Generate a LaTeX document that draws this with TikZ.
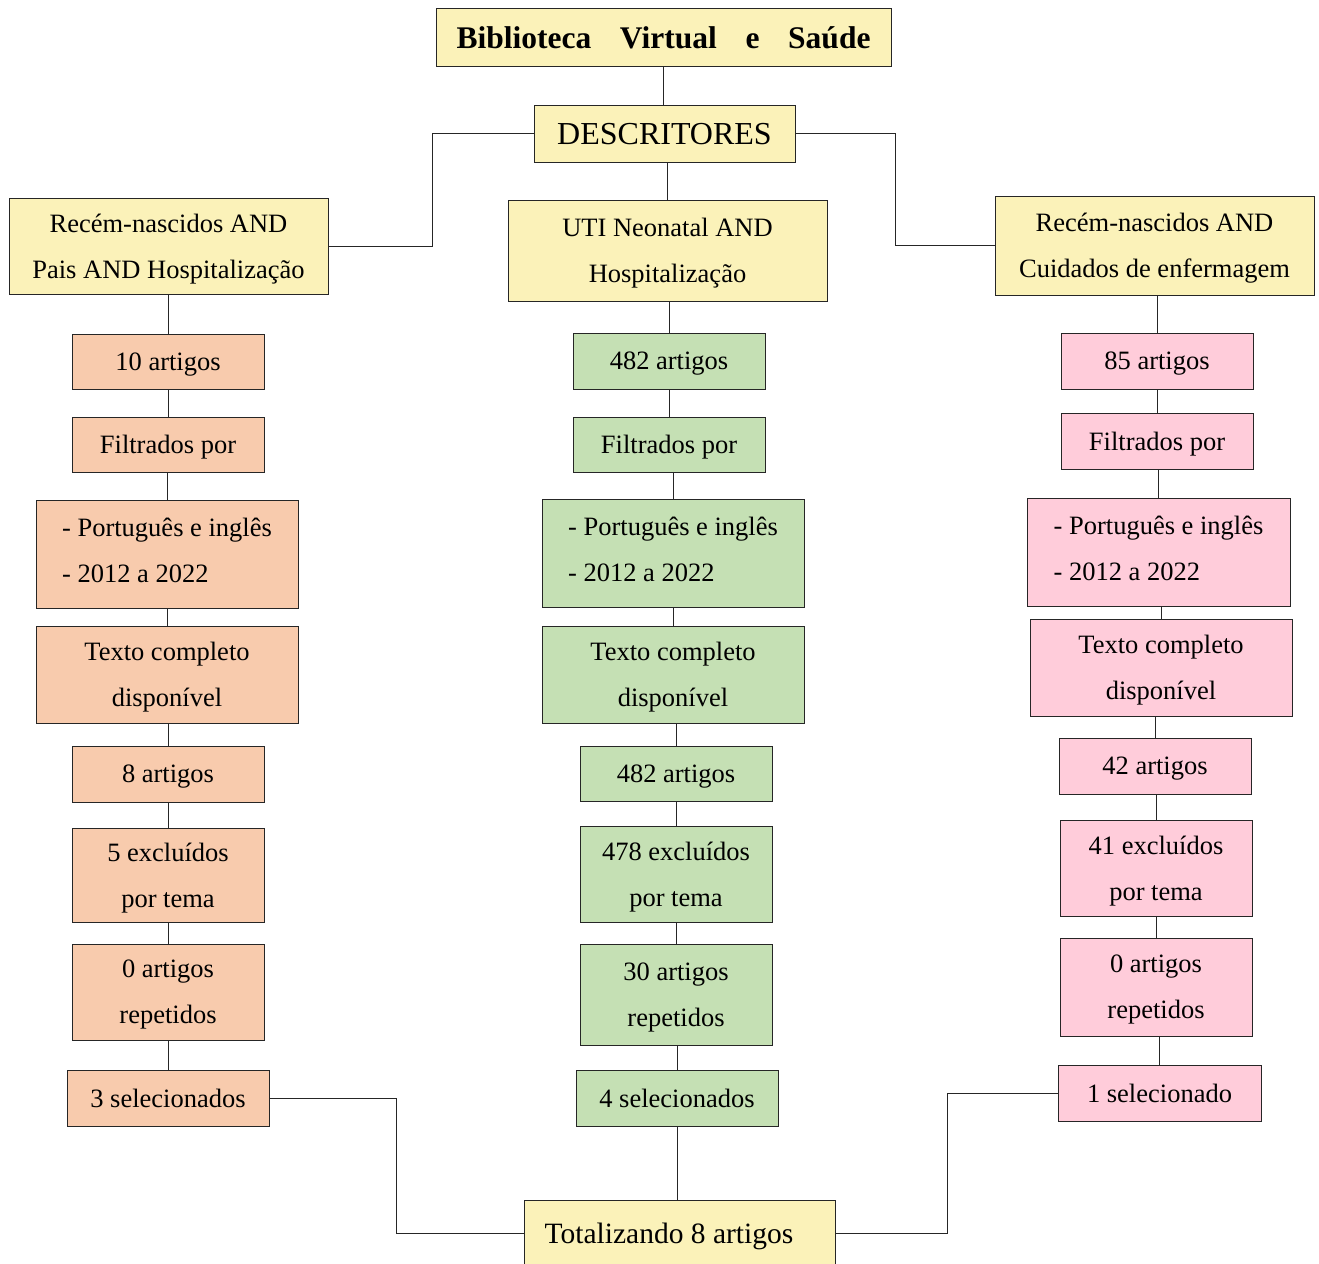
\documentclass[tikz,border=0pt]{standalone}
\usepackage{fontspec}
\setmainfont{Liberation Serif}
\definecolor{cyel}{HTML}{FBF2B9}
\definecolor{corg}{HTML}{F8CBAD}
\definecolor{cgrn}{HTML}{C5E0B4}
\definecolor{cpnk}{HTML}{FFCCDA}
\begin{document}
\begin{tikzpicture}[x=1pt,y=-1pt,
  box/.style={draw=black!85, line width=1pt, inner sep=0pt, align=center, text depth=0pt, font=\fontsize{26.5}{46}\selectfont},
  list/.style={align=left, text depth=8pt},
  ybox/.style={box, fill=cyel},
  obox/.style={box, fill=corg},
  gbox/.style={box, fill=cgrn},
  pbox/.style={box, fill=cpnk},
  conn/.style={draw=black!85, line width=1pt}]
\useasboundingbox (0,0) rectangle (1319,1263);

% top
\node[ybox, minimum width=455, minimum height=58, font=\fontsize{31.5}{38}\selectfont\bfseries] (title) at (663.5,38) {\makebox[414pt][s]{Biblioteca Virtual e Saúde}};
\node[ybox, minimum width=261, minimum height=57, font=\fontsize{32}{38}\selectfont] (desc) at (664.5,133.5) {DESCRITORES};

% left column
\node[ybox, minimum width=319, minimum height=96] (l0) at (168.5,246) {Recém-nascidos AND\\Pais AND Hospitalização};
\node[obox, minimum width=192, minimum height=55] (l1) at (168,361.5) {10 artigos};
\node[obox, minimum width=192, minimum height=55] (l2) at (168,444.5) {Filtrados por};
\node[obox, list, minimum width=262, minimum height=108] (l3) at (167,554) {- Português e inglês\\- 2012 a 2022};
\node[obox, minimum width=262, minimum height=97] (l4) at (167,674.5) {Texto completo\\disponível};
\node[obox, minimum width=192, minimum height=56] (l5) at (168,774) {8 artigos};
\node[obox, minimum width=192, minimum height=94] (l6) at (168,875) {5 excluídos\\por tema};
\node[obox, minimum width=192, minimum height=96] (l7) at (168,992) {0 artigos\\repetidos};
\node[obox, minimum width=202, minimum height=56] (l8) at (168,1098) {3 selecionados};

% middle column
\node[ybox, minimum width=319, minimum height=101] (m0) at (667.5,250.5) {UTI Neonatal AND\\Hospitalização};
\node[gbox, minimum width=192, minimum height=56] (m1) at (669,361) {482 artigos};
\node[gbox, minimum width=192, minimum height=55] (m2) at (669,444.5) {Filtrados por};
\node[gbox, list, minimum width=262, minimum height=108] (m3) at (673,553) {- Português e inglês\\- 2012 a 2022};
\node[gbox, minimum width=262, minimum height=97] (m4) at (673,674.5) {Texto completo\\disponível};
\node[gbox, minimum width=192, minimum height=55] (m5) at (676,773.5) {482 artigos};
\node[gbox, minimum width=192, minimum height=96] (m6) at (676,874) {478 excluídos\\por tema};
\node[gbox, minimum width=192, minimum height=101] (m7) at (676,994.5) {30 artigos\\repetidos};
\node[gbox, minimum width=202, minimum height=56] (m8) at (677,1098) {4 selecionados};

% right column
\node[ybox, minimum width=319, minimum height=99] (r0) at (1154.5,245.5) {Recém-nascidos AND\\Cuidados de enfermagem};
\node[pbox, minimum width=192, minimum height=56] (r1) at (1157,361) {85 artigos};
\node[pbox, minimum width=192, minimum height=56] (r2) at (1157,441) {Filtrados por};
\node[pbox, list, minimum width=263, minimum height=108] (r3) at (1158.5,552) {- Português e inglês\\- 2012 a 2022};
\node[pbox, minimum width=262, minimum height=97] (r4) at (1161,667.5) {Texto completo\\disponível};
\node[pbox, minimum width=192, minimum height=56] (r5) at (1155,766) {42 artigos};
\node[pbox, minimum width=192, minimum height=96] (r6) at (1156,868) {41 excluídos\\por tema};
\node[pbox, minimum width=192, minimum height=98] (r7) at (1156,987) {0 artigos\\repetidos};
\node[pbox, minimum width=203, minimum height=56] (r8) at (1159.5,1093) {1 selecionado};

% total
\node[ybox, minimum width=311, minimum height=66, font=\fontsize{29.5}{36}\selectfont] (tot) at (679.5,1233) {\hspace*{-21pt}Totalizando 8 artigos};

% junction coordinates
\coordinate (jl) at (432,0);
\coordinate (jr) at (895,0);
\coordinate (jbl) at (396,0);
\coordinate (jbr) at (947,0);

% connectors
\draw[conn] (title.south) -- (title.south |- desc.north);
\draw[conn] (desc.west) -- (desc.west -| jl) |- (l0.east);
\draw[conn] (desc.east) -- (desc.east -| jr) |- (r0.west);
\draw[conn] (desc.south -| m0.north) -- (m0.north);

\foreach \c in {l,m,r}{
  \draw[conn] (\c0.south -| \c1.north) -- (\c1.north);
  \draw[conn] (\c1.south -| \c2.north) -- (\c2.north);
  \draw[conn] (\c2.south -| \c3.north) -- (\c3.north);
  \draw[conn] (\c3.south -| \c4.north) -- (\c4.north);
  \draw[conn] (\c4.south -| \c5.north) -- (\c5.north);
  \draw[conn] (\c5.south -| \c6.north) -- (\c6.north);
  \draw[conn] (\c6.south -| \c7.north) -- (\c7.north);
  \draw[conn] (\c7.south -| \c8.north) -- (\c8.north);
}

\draw[conn] (l8.east) -- (l8.east -| jbl) |- (tot.west);
\draw[conn] (r8.west) -- (r8.west -| jbr) |- (tot.east);
\draw[conn] (m8.south) -- (m8.south |- tot.north);
\end{tikzpicture}
\end{document}
